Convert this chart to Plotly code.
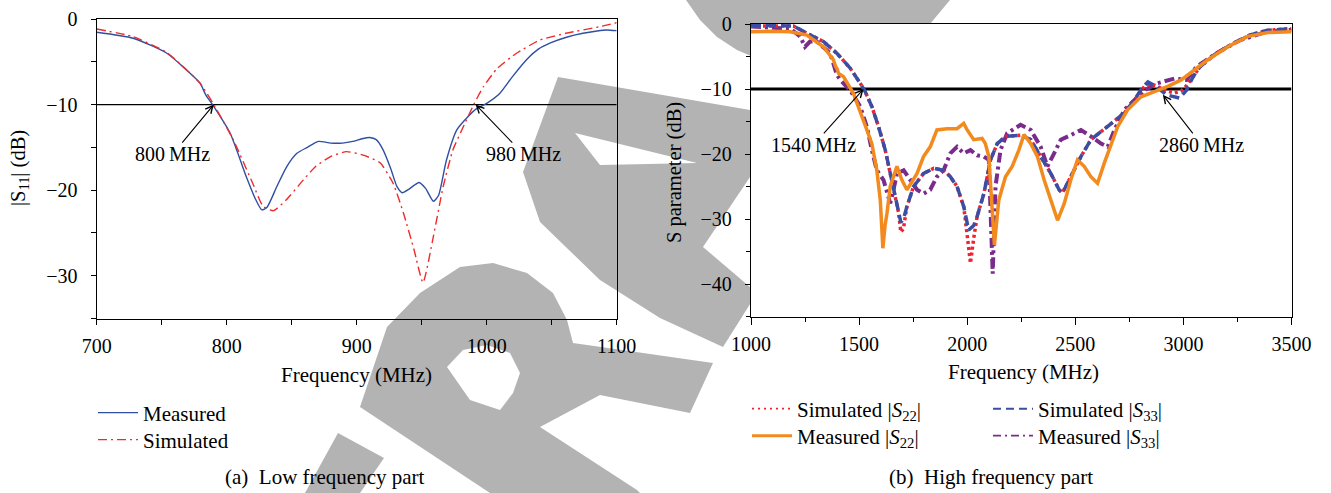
import plotly.graph_objects as go

# ---------------- data: (a) low frequency part ----------------
freq_meas_a = [700, 728, 754, 769, 779.5, 784, 790, 802.5, 815, 822, 827, 831, 838.5, 846, 854, 862,
               870.5, 880, 889, 897, 904, 910, 915, 920, 926, 931, 935, 940, 948, 953, 959, 963,
               969, 977, 985, 992, 1000, 1010, 1020, 1031, 1040, 1049, 1062, 1074, 1085, 1092, 1100]
s11_meas = [-1.55, -2.25, -4.0, -5.95, -7.5, -8.9, -10.2, -13.3, -18.4, -21.0, -22.3, -22.0, -19.6, -17.3,
            -15.7, -15.0, -14.3, -14.5, -14.5, -14.3, -14.0, -13.85, -14.1, -15.2, -17.4, -19.6, -20.3,
            -19.9, -19.1, -19.8, -21.3, -20.6, -16.5, -12.95, -11.5, -10.5, -9.85, -8.7, -6.7, -4.7,
            -3.5, -2.8, -2.1, -1.67, -1.4, -1.28, -1.36]

freq_sim_a = [700, 728, 754, 779.5, 790, 805, 820, 828, 836, 846, 859, 868, 879.5, 892, 905, 918, 928,
              936, 944, 951, 959, 966.5, 974, 982, 990, 997.5, 1008, 1023, 1041, 1061, 1087, 1100]
s11_sim = [-1.17, -2.06, -3.93, -7.5, -10.0, -14.1, -19.2, -21.9, -22.4, -21.1, -18.8, -17.3, -16.1,
           -15.5, -15.9, -16.8, -19.2, -22.7, -26.9, -30.8, -25.4, -19.6, -15.3, -12.6, -10.0, -7.9,
           -5.8, -4.0, -2.45, -1.67, -0.9, -0.43]

# ---------------- data: (b) high frequency part ----------------
freq_sim22 = [1000, 1100, 1196, 1258, 1335, 1397, 1459, 1505, 1528, 1559, 1590, 1621, 1644, 1667, 1683,
              1693, 1705, 1721, 1752, 1798, 1845, 1891, 1922, 1953, 1984, 2000, 2015, 2030, 2046, 2077,
              2108, 2139, 2178, 2247, 2294, 2340, 2387, 2425, 2440, 2456, 2487, 2526, 2572, 2619, 2681,
              2727, 2773, 2820, 2850, 2880, 2921, 2960, 2990, 3014, 3045, 3076, 3153, 3230, 3307, 3385, 3500]
s22_sim = [-0.3, -0.3, -0.3, -1.4, -2.7, -4.5, -6.8, -9.1, -10.4, -12.7, -15.8, -19.4, -23.0, -26.1,
           -29.1, -32.0, -31.5, -28.1, -25.0, -23.0, -22.2, -22.5, -23.5, -25.0, -28.1, -32.5, -36.8,
           -33.0, -29.6, -26.1, -20.9, -18.4, -17.3, -17.1, -17.8, -20.4, -23.0, -25.5, -26.0, -25.0,
           -23.0, -20.4, -17.8, -16.6, -15.0, -13.7, -11.7, -9.6, -9.2, -9.6, -10.3, -10.6, -10.3, -9.5,
           -8.1, -6.6, -4.5, -3.0, -1.7, -1.0, -0.7]

freq_sim33 = [1000, 1100, 1196, 1258, 1335, 1397, 1459, 1505, 1528, 1559, 1590, 1621, 1644, 1667, 1683,
              1693, 1705, 1721, 1752, 1798, 1845, 1891, 1922, 1953, 1984, 2007, 2030, 2046, 2077, 2108,
              2139, 2178, 2247, 2294, 2340, 2387, 2425, 2440, 2456, 2487, 2526, 2572, 2619, 2681, 2727,
              2773, 2810, 2836, 2874, 2921, 2983, 3014, 3045, 3076, 3153, 3230, 3307, 3385, 3500]
s33_sim = [-0.2, -0.2, -0.3, -1.4, -2.7, -4.5, -6.8, -9.1, -10.4, -12.7, -15.8, -19.4, -23.0, -26.1,
           -29.1, -30.5, -30.0, -28.1, -25.0, -23.0, -22.2, -22.5, -23.5, -25.0, -28.1, -31.7, -31.0,
           -29.6, -26.1, -20.9, -18.4, -17.3, -17.1, -17.8, -20.4, -23.0, -25.5, -26.0, -25.0, -23.0,
           -20.4, -17.8, -16.6, -15.0, -13.7, -11.7, -9.8, -8.9, -9.6, -10.9, -11.4, -10.2, -8.1, -6.6,
           -4.5, -3.0, -1.7, -1.0, -0.7]

freq_meas22 = [1000, 1100, 1181, 1258, 1335, 1381, 1392, 1397, 1405, 1428, 1474, 1505, 1536, 1559, 1582,
               1598, 1610, 1620, 1629, 1644, 1675, 1698, 1721, 1744, 1768, 1798, 1829, 1860, 1907, 1953,
               1984, 2000, 2030, 2069, 2084, 2100, 2115, 2126, 2146, 2177, 2208, 2239, 2263, 2294, 2325,
               2356, 2387, 2418, 2449, 2479, 2510, 2541, 2572, 2603, 2634, 2665, 2696, 2742, 2804, 2866,
               2928, 2990, 3051, 3113, 3206, 3298, 3391, 3500]
s22_meas = [-1.2, -1.1, -1.2, -1.7, -3.5, -5.5, -6.6, -6.8, -7.6, -8.1, -10.7, -13.7, -16.3, -18.4,
            -22.5, -27.1, -34.5, -31.0, -29.1, -25.0, -21.9, -24.0, -25.5, -24.3, -23.0, -20.4, -18.9,
            -16.3, -16.1, -16.1, -15.3, -16.3, -17.8, -17.6, -18.4, -20.4, -28.1, -34.0, -27.1, -23.5,
            -21.9, -19.4, -17.0, -18.4, -20.4, -24.0, -27.1, -30.2, -27.6, -24.0, -20.9, -21.9, -23.5,
            -24.5, -21.4, -18.4, -15.8, -13.2, -11.2, -10.4, -9.6, -8.6, -7.1, -5.5, -3.5, -1.9, -1.3, -1.2]

freq_meas33 = [1000, 1181, 1227, 1250, 1273, 1304, 1366, 1397, 1413, 1459, 1505, 1536, 1559, 1582, 1613,
               1629, 1644, 1659, 1675, 1706, 1737, 1768, 1798, 1829, 1860, 1891, 1922, 1953, 1984, 2015,
               2046, 2077, 2100, 2112, 2118, 2124, 2131, 2154, 2185, 2247, 2294, 2340, 2371, 2402, 2433,
               2479, 2526, 2572, 2619, 2650, 2681, 2727, 2773, 2820, 2881, 2958, 3014, 3060, 3153, 3261,
               3385, 3500]
s33_meas = [-0.4, -0.7, -1.9, -3.5, -2.7, -2.7, -4.5, -7.8, -8.6, -10.2, -12.7, -15.8, -19.4, -22.5,
            -24.0, -26.1, -27.6, -25.5, -23.0, -22.5, -24.0, -25.5, -26.1, -25.5, -23.5, -22.5, -19.9,
            -18.9, -19.9, -19.4, -20.2, -20.4, -20.9, -32.2, -38.4, -32.0, -25.0, -19.4, -16.8, -15.5,
            -16.3, -18.9, -21.9, -19.9, -17.8, -17.1, -16.3, -17.3, -18.4, -18.9, -16.3, -13.2, -11.7,
            -10.2, -9.1, -8.4, -8.6, -6.6, -4.5, -2.5, -1.2, -0.9]

ref_level = -10
range_a = [700, 1100]
range_b = [1000, 3500]

# annotation markers: label, arrow tip, label position (data units)
marks_a = [("800\u2009MHz", (790, -10), (758.5, -15.8)),
           ("980\u2009MHz", (991.5, -10), (1028.2, -15.8))]
marks_b = [("1540\u2009MHz", (1520.8, -10), (1289, -18.6)),
           ("2860\u2009MHz", (2905, -10.9), (3085, -18.6))]

# ---------------- figure ----------------
W, H = 1331, 493
FONT = "Liberation Serif"


def px(x):
    return x / W


def py(y):
    return 1 - y / H


fig = go.Figure()

# (a)
fig.add_trace(go.Scatter(x=range_a, y=[ref_level, ref_level], mode="lines", showlegend=False,
                         line=dict(color="black", width=1.2), xaxis="x", yaxis="y", hoverinfo="skip"))
fig.add_trace(go.Scatter(x=freq_meas_a, y=s11_meas, mode="lines", name="Measured",
                         line=dict(color="#2f4ea4", width=1.4, shape="spline", smoothing=0.6),
                         xaxis="x", yaxis="y", legend="legend"))
fig.add_trace(go.Scatter(x=freq_sim_a, y=s11_sim, mode="lines", name="Simulated",
                         line=dict(color="#ee2a2a", width=1.4, dash="9px,4px,2px,4px", shape="spline", smoothing=0.5),
                         xaxis="x", yaxis="y", legend="legend2"))

# (b)  series: (name, x, y, colour, width, dash, legend id, legend width, legend dash)
series_b = [
    ("Measured |<i>S</i><sub>33</sub>|", freq_meas33, s33_meas, "#7a2c8c", 4, "10px,4px,3px,4px",
     "legend6", 1.6, "8px,4px,2px,4px"),
    ("Simulated |<i>S</i><sub>22</sub>|", freq_sim22, s22_sim, "#ee2230", 3.5, "3px,3px",
     "legend3", 1.6, "2px,4px"),
    ("Simulated |<i>S</i><sub>33</sub>|", freq_sim33, s33_sim, "#3a4fa3", 3.5, "10px,5px",
     "legend5", 2, "8px,5px"),
    ("Measured |<i>S</i><sub>22</sub>|", freq_meas22, s22_meas, "#f28a1e", 3.5, "solid",
     "legend4", 3, "solid"),
]
fig.add_trace(go.Scatter(x=range_b, y=[ref_level, ref_level], mode="lines", showlegend=False,
                         line=dict(color="black", width=3), xaxis="x2", yaxis="y2", hoverinfo="skip"))
for name, xs, ys, col, wd, dash, leg, lwd, ldash in series_b:
    fig.add_trace(go.Scatter(x=xs, y=ys, mode="lines", name=name, showlegend=False,
                             line=dict(color=col, width=wd, dash=dash), xaxis="x2", yaxis="y2"))
    # legend key (thinner line as in the reference key)
    fig.add_trace(go.Scatter(x=[None], y=[None], mode="lines", name=name, legend=leg,
                             line=dict(color=col, width=lwd, dash=ldash), xaxis="x2", yaxis="y2"))

# ---------------- watermark (decorative) ----------------
GRAY = "#b3b3b3"


def poly(points, color):
    d = "M " + " L ".join(f"{px(a):.5f},{py(b):.5f}" for a, b in points) + " Z"
    return dict(type="path", path=d, xref="paper", yref="paper", fillcolor=color,
                line=dict(width=0), layer="below")


wm_gray = [
    [(686, 0), (700, 20), (717, 37), (737, 50), (751, 56), (751, 24), (930, 24), (950, 0)],
    [(558, 77), (750, 110), (750, 177), (703, 247), (757, 293), (723, 347), (660, 318), (600, 280),
     (540, 222), (523, 172)],
    [(360, 407), (387, 327), (420, 293), (460, 267), (493, 263), (527, 273), (553, 293), (567, 320),
     (573, 343), (713, 363), (690, 413), (600, 395), (540, 427), (637, 490), (640, 493), (490, 493)],
    [(338, 433), (384, 458), (360, 493), (305, 493)],
]
wm_white = [
    [(575, 133), (697, 163), (600, 165)],
    [(447, 367), (463, 350), (487, 345), (510, 353), (520, 373), (513, 393), (500, 410), (470, 400)],
]
shapes = [poly(p, GRAY) for p in wm_gray] + [poly(p, "white") for p in wm_white]
shapes.append(dict(type="rect", xref="paper", yref="paper", x0=px(751), x1=px(1291.5), y0=py(316.5),
                   y1=py(24), fillcolor="white", line=dict(width=0), layer="below"))

# ---------------- annotations ----------------
ann = []
for xa, ya, marks in (("x", "y", marks_a), ("x2", "y2", marks_b)):
    for label, tip, pos in marks:
        ann.append(dict(x=tip[0], y=tip[1], ax=pos[0], ay=pos[1], xref=xa, yref=ya, axref=xa, ayref=ya,
                        text=label, showarrow=True, arrowhead=5, arrowsize=1.3, arrowwidth=1.1,
                        arrowcolor="black", standoff=0, borderpad=0,
                        font=dict(size=20, family=FONT, color="black")))


def paper_text(text, x, y, size, angle=0):
    return dict(x=px(x), y=py(y), xref="paper", yref="paper", text=text, showarrow=False, textangle=angle,
                font=dict(size=size, family=FONT, color="black"), xanchor="center", yanchor="middle")


ann += [
    paper_text("Frequency (MHz)", 356.7, 375, 21),
    paper_text("Frequency (MHz)", 1023, 372, 21),
    paper_text("|S<sub>11</sub>| (dB)", 19, 168, 20.5, -90),
    paper_text("S parameter (dB)", 675, 172, 20.5, -90),
    paper_text("(a)\u2002Low frequency part", 325, 477, 21),
    paper_text("(b)\u2002High frequency part", 991, 477, 21),
]

tickfont = dict(size=20, family=FONT, color="black")
axis_common = dict(showgrid=False, zeroline=False, showline=True, linecolor="black", linewidth=1.3,
                   mirror=True, ticks="outside", tickcolor="black", tickwidth=1.3, tickfont=tickfont,
                   automargin=False)


def legend_at(x, y):
    return dict(x=px(x), y=py(y), xanchor="left", yanchor="middle", bgcolor="rgba(0,0,0,0)",
                font=dict(size=21, family=FONT, color="black"), itemwidth=40)


fig.update_layout(
    width=W, height=H, margin=dict(l=0, r=0, t=0, b=0, pad=0, autoexpand=False),
    paper_bgcolor="white", plot_bgcolor="rgba(0,0,0,0)",
    font=dict(family=FONT, color="black"),
    xaxis=dict(domain=[px(96.7), px(616.7)], range=range_a, tick0=700, dtick=100, ticklen=5,
               minor=dict(dtick=50, ticks="outside", ticklen=5, tickcolor="black", tickwidth=1.3),
               ticklabelstandoff=4, anchor="y", **axis_common),
    yaxis=dict(domain=[py(318.5), py(19)], range=[-35, 0], tick0=0, dtick=10, ticklen=5,
               minor=dict(dtick=5, ticks="outside", ticklen=5, tickcolor="black", tickwidth=1.3),
               ticklabelstandoff=9, anchor="x", **axis_common),
    xaxis2=dict(domain=[px(751), px(1291.5)], range=range_b, tick0=1000, dtick=500, ticklen=7,
                minor=dict(dtick=250, ticks="outside", ticklen=4, tickcolor="black", tickwidth=1.3),
                ticklabelstandoff=2, anchor="y2", **axis_common),
    yaxis2=dict(domain=[py(316.5), py(24)], range=[-45, 0], tick0=0, dtick=10, ticklen=5,
                minor=dict(dtick=5, ticks="outside", ticklen=4, tickcolor="black", tickwidth=1.3),
                ticklabelstandoff=9, anchor="x2", **axis_common),
    legend=legend_at(93, 413),
    legend2=legend_at(93, 440),
    legend3=legend_at(747, 409),
    legend4=legend_at(747, 436),
    legend5=legend_at(988, 409),
    legend6=legend_at(988, 436),
    shapes=shapes,
    annotations=ann,
)

fig.write_html("out.html", config={"displayModeBar": False},
               post_script="document.body.style.margin='0';")
